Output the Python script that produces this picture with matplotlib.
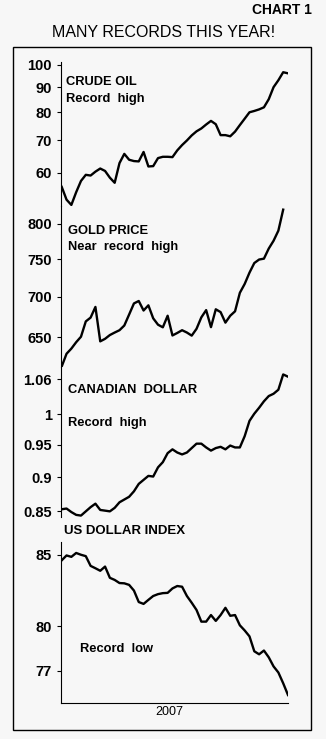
import numpy as np
import matplotlib
matplotlib.use("Agg")
import matplotlib.pyplot as plt
from matplotlib.patches import Rectangle
from matplotlib.ticker import NullLocator

plt.rcParams["font.family"] = ["Liberation Sans", "DejaVu Sans"]

# weekly readings through 2007
weeks = np.arange(48)

crude_oil = [56.1, 52.8, 51.5, 54.7, 57.7, 59.4, 59.2, 60.3, 61.2, 60.5, 58.6, 57.2,
             62.8, 65.6, 63.8, 63.4, 63.3, 66.2, 61.8, 61.9, 64.3, 64.7, 64.7, 64.6,
             66.7, 68.4, 69.9, 71.6, 73.0, 74.0, 75.4, 76.7, 75.5, 71.7, 71.7, 71.3,
             72.9, 75.2, 77.5, 79.9, 80.4, 81.0, 81.8, 85.0, 90.0, 93.0, 96.6, 96.1]

gold = [616, 630.5, 636.5, 644, 650.5, 669, 673.7, 687, 645, 648, 652.5, 655.5,
        658.3, 664, 677.5, 691.4, 694.5, 682.5, 689, 672.8, 665, 661.8, 676, 652,
        655, 658.3, 655.5, 651.8, 660, 674, 683, 662, 684, 680.5, 667.5, 676,
        681.5, 705, 716.5, 731.5, 744.5, 749.3, 750.5, 764.5, 775.5, 790, 821]

canadian_dollar = [0.853, 0.854, 0.849, 0.845, 0.844, 0.850, 0.856, 0.861, 0.852, 0.851, 0.850, 0.855,
                   0.863, 0.867, 0.871, 0.879, 0.890, 0.896, 0.902, 0.901, 0.915, 0.923, 0.937, 0.943,
                   0.938, 0.935, 0.938, 0.945, 0.952, 0.952, 0.946, 0.941, 0.945, 0.947, 0.943, 0.949,
                   0.946, 0.946, 0.964, 0.989, 1.001, 1.011, 1.022, 1.031, 1.035, 1.042, 1.069, 1.065]

usd_index = [84.6, 84.95, 84.85, 85.13, 85.0, 84.9, 84.2, 84.03, 83.85, 84.15, 83.35, 83.2,
             82.98, 82.96, 82.85, 82.45, 81.65, 81.52, 81.8, 82.07, 82.2, 82.27, 82.29, 82.6,
             82.77, 82.72, 82.07, 81.6, 81.1, 80.3, 80.3, 80.75, 80.35, 80.75, 81.25, 80.7,
             80.75, 80.05, 79.7, 79.3, 78.3, 78.1, 78.35, 77.9, 77.3, 76.9, 76.2, 75.44]

oil_ticks = [60, 70, 80, 90, 100]
gold_ticks = [650, 700, 750, 800]
cad_ticks = [0.85, 0.9, 0.95, 1, 1.06]
cad_labels = ["0.85", "0.9", "0.95", "1", "1.06"]
usd_ticks = [77, 80, 85]

W, H = 326, 739
BG = "#f7f7f7"

fig = plt.figure(figsize=(W / 100, H / 100), dpi=100, facecolor=BG)


def px_rect(x0, y0, x1, y1):
    return [x0 / W, 1 - y1 / H, (x1 - x0) / W, (y1 - y0) / H]


def panel(rect, y, ticks, labels, ylim):
    ax = fig.add_axes(rect)
    ax.set_facecolor("none")
    ax.plot(weeks[:len(y)], y, color="black", lw=1.7)
    ax.set_yscale("log")
    ax.set_ylim(*ylim)
    ax.set_xlim(-0.15, 47)
    ax.set_yticks(ticks, labels)
    ax.yaxis.set_minor_locator(NullLocator())
    ax.set_xticks([])
    for side in ("top", "right", "bottom"):
        ax.spines[side].set_visible(False)
    ax.spines["left"].set_linewidth(0.8)
    ax.tick_params(axis="y", length=3, width=0.8, pad=3.5,
                   labelsize=10.5, direction="out")
    for t in ax.get_yticklabels():
        t.set_fontweight("bold")
    return ax


panel(px_rect(61, 62, 288, 206), crude_oil, oil_ticks,
      [str(t) for t in oil_ticks], (51.24, 101.4))
panel(px_rect(61, 206, 288, 367), gold, gold_ticks,
      [str(t) for t in gold_ticks], (615.4, 826.5))
panel(px_rect(61, 367, 288, 517), canadian_dollar, cad_ticks,
      cad_labels, (0.842, 1.0824))
ax4 = panel(px_rect(61, 541.7, 288, 703), usd_index, usd_ticks,
            [str(t) for t in usd_ticks], (74.93, 85.95))
ax4.spines["bottom"].set_visible(True)
ax4.spines["bottom"].set_linewidth(0.8)
ax4.set_xlabel("2007", fontsize=9, labelpad=1)
ax4.xaxis.set_label_coords(0.476, -0.02, transform=ax4.transAxes)
ax4.xaxis.label.set_va("top")

# outer frame
fig.patches.append(Rectangle((13 / W, 1 - 730 / H), 298 / W, 683 / H,
                             transform=fig.transFigure, fill=False,
                             ec="black", lw=1.0))


def label(x, y, s, size=9.3, weight="bold", ha="left"):
    fig.text(x / W, 1 - y / H, s, fontsize=size, fontweight=weight,
             ha=ha, va="baseline")


label(312, 14, "CHART 1", size=10, ha="right")
label(164, 37, "MANY RECORDS THIS YEAR!", size=11.5, weight="normal", ha="center")

label(66, 85.3, "CRUDE OIL")
label(66, 101.7, "Record  high")
label(68.5, 234.3, "GOLD PRICE")
label(68.5, 250, "Near  record  high")
label(68.5, 392.7, "CANADIAN  DOLLAR")
label(68.5, 425.7, "Record  high")
label(64.5, 534, "US DOLLAR INDEX", size=9.5)
label(80, 651.7, "Record  low")

fig.savefig("out.png", dpi=100, facecolor=BG)
